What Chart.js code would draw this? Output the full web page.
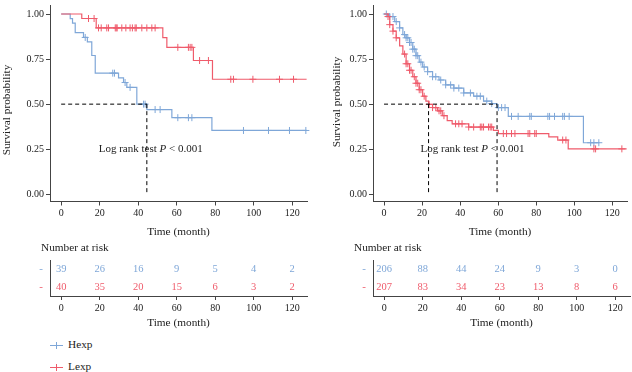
<!DOCTYPE html>
<html>
<head>
<meta charset="utf-8">
<script src="https://cdn.jsdelivr.net/npm/chart.js@4"></script>
<style>
  body{margin:0;background:#fff;}
  #wrap{position:relative;width:632px;height:372px;overflow:hidden;background:#fff;
        font-family:"Liberation Serif","DejaVu Serif",serif;color:#222;}
  #wrap canvas{position:absolute;}
  .legend{position:absolute;left:50px;font-size:11.3px;line-height:14px;white-space:nowrap;}
  .legend .sw{display:inline-block;position:relative;width:13px;height:1px;vertical-align:middle;margin-right:5px;}
  .legend .sw::after{content:"";position:absolute;left:6px;top:-3px;width:1px;height:7px;background:inherit;}
</style>
</head>
<body>
<div id="wrap">
  <canvas id="kmLeft" width="316" height="239" style="left:0;top:0"></canvas>
  <canvas id="kmRight" width="316" height="239" style="left:316px;top:0"></canvas>
  <canvas id="riskLeft" width="316" height="90" style="left:0;top:240px"></canvas>
  <canvas id="riskRight" width="316" height="90" style="left:316px;top:240px"></canvas>
</div>
<script>
// ---- donnees ----
const groups = ["Hexp", "Lexp"];
const timeTicks = [0, 20, 40, 60, 80, 100, 120];
const survTicks = [0, 0.25, 0.5, 0.75, 1];

// panneau gauche : courbes en escalier (temps, survie)
const leftHexpTime = [0, 4.7, 5.9, 7.3, 11.6, 13.6, 15.9, 17.7, 29.8, 32.4, 34.1, 39.3, 44.5, 57.5, 78.3, 127.5];
const leftHexpSurv = [1, 0.974, 0.949, 0.897, 0.87, 0.845, 0.77, 0.672, 0.646, 0.62, 0.593, 0.5, 0.47, 0.425, 0.354, 0.354];
const leftLexpTime = [0, 10.7, 18.2, 52.8, 54.9, 68.7, 78.6, 127.5];
const leftLexpSurv = [1, 0.975, 0.923, 0.869, 0.815, 0.742, 0.638, 0.638];
// censures (temps)
const leftHexpCens = [12.5, 26.8, 27.7, 33.2, 35.8, 42.8, 43.6, 48.8, 51.4, 60.6, 66.1, 67.9, 94.7, 107.7, 118.6, 127.1];
const leftLexpCens = [14.2, 17.1, 19.4, 20.8, 23.7, 24.6, 28.1, 28.6, 29.1, 31.5, 33.6, 35.8, 37, 38.4, 39,
  41.9, 44.5, 47.1, 48.8, 60.6, 66.1, 67, 67.9, 71.9, 76.5, 88.1, 89.5, 99.6, 113.4, 120.7];
const leftMedians = [44.5];

// panneau droit
const rightHexpTime = [0, 1.7, 3.0, 5.6, 8.2, 9.9, 11.6, 13.4, 15.1, 16.8, 18.5, 20.3, 22.9, 25.5, 28.9, 32.4,
  36.7, 41.9, 47.1, 52.3, 56.6, 59.4, 65.3, 104.8, 113.2];
const rightHexpSurv = [1, 0.995, 0.986, 0.958, 0.923, 0.886, 0.868, 0.842, 0.805, 0.769, 0.733, 0.706, 0.68, 0.652, 0.634, 0.607,
  0.589, 0.562, 0.544, 0.517, 0.503, 0.481, 0.432, 0.286, 0.286];
const rightLexpTime = [0, 2.1, 3.0, 4.7, 6.4, 8.2, 9.9, 11.6, 13.4, 15.1, 16.8, 18.5, 20.3, 22, 23.4, 25.5, 28.1,
  30.6, 33.2, 35.8, 44.5, 57.5, 60.1, 86.6, 91.3, 96.8, 127.5];
const rightLexpSurv = [1, 0.986, 0.941, 0.905, 0.868, 0.823, 0.778, 0.724, 0.688, 0.652, 0.616, 0.58, 0.544, 0.517, 0.499, 0.481, 0.463,
  0.436, 0.409, 0.391, 0.373, 0.355, 0.337, 0.319, 0.301, 0.252, 0.252];
const rightHexpCens = [1.2, 3.0, 4.7, 6.4, 8.2, 10.8, 11.6, 12.5, 13.4, 14.2, 15.1, 15.9, 16.8, 17.7, 19.4, 21.1, 22.9,
  25.5, 27.2, 29.8, 32.4, 35, 36.7, 39.3, 41.9, 45.4, 48.8, 50.6, 54, 56.6, 60.1, 61.8, 63.6, 67, 70.5, 76.6,
  77.4, 86.1, 87, 89.6, 93.9, 94.8, 97.3, 108.6, 110.3, 112.9];
const rightLexpCens = [2.1, 3.0, 4.7, 6.4, 10.8, 11.6, 12.5, 13.4, 14.2, 15.9, 16.8, 17.7, 18.5, 19.4, 21.1, 23.7,
  25.5, 27.2, 28.9, 29.8, 31.5, 37.6, 39.3, 41, 44.5, 47.1, 50.6, 51.4, 52.3, 54.9, 55.8, 56.6, 62.7, 64.4, 67,
  68.8, 75.7, 76.6, 79.2, 80, 93.9, 95.6, 110.3, 111.2, 125];
const rightMedians = [23.4, 59.4];

// nombre a risque
const leftRiskHexp = [39, 26, 16, 9, 5, 4, 2];
const leftRiskLexp = [40, 35, 20, 15, 6, 3, 2];
const rightRiskHexp = [206, 88, 44, 24, 9, 3, 0];
const rightRiskLexp = [207, 83, 34, 23, 13, 8, 6];

const logRankText = ["Log rank test ", "P", " < 0.001"];
const logRankAt = [46.5, 0.25];

// ---- styles ----
const FONT = "'Liberation Serif', 'DejaVu Serif', serif";
const BLUE = "#7fa7d8", RED = "#ef5b6b", AXIS = "#444", TEXT = "#222";
const X_MIN = -5.8, X_MAX = 127.7;
const colors = [BLUE, RED];

function survAt(times, survs, t){
  let s = survs[0];
  for(let i=0;i<times.length;i++){ if(times[i] <= t) s = survs[i]; }
  return s;
}
function fixedAxis(size){
  return (scale)=>{
    if(scale.isHorizontal()) scale.height = size; else scale.width = size;
    scale.paddingLeft = scale.paddingRight = scale.paddingTop = scale.paddingBottom = 0;
  };
}
function timeAxis(height){
  return {
    type: "linear", min: X_MIN, max: X_MAX,
    afterBuildTicks: s => { s.ticks = timeTicks.map(v => ({value: v})); },
    afterFit: fixedAxis(height),
    border: {display: true, color: AXIS, width: 1},
    grid: {drawOnChartArea: false, drawTicks: true, tickLength: 4, color: AXIS},
    ticks: {color: TEXT, font: {family: FONT, size: 10}, padding: 2, maxRotation: 0, autoSkip: false},
    title: {display: true, text: "Time (month)", color: TEXT, font: {family: FONT, size: 11.3}, padding: 0}
  };
}

// texte "Log rank test P < 0.001" + titre de l'axe y
const kmTextPlugin = {
  id: "kmText",
  afterDatasetsDraw(chart, args, opts){
    const {ctx, scales: {x, y}} = chart;
    const px = x.getPixelForValue(logRankAt[0]), py = y.getPixelForValue(logRankAt[1]);
    ctx.save();
    ctx.fillStyle = TEXT; ctx.textBaseline = "middle"; ctx.textAlign = "left";
    const fonts = ["11px " + FONT, "italic 11px " + FONT, "11px " + FONT];
    let w = 0;
    logRankText.forEach((t, i) => { ctx.font = fonts[i]; w += ctx.measureText(t).width; });
    let cx = px - w / 2;
    logRankText.forEach((t, i) => { ctx.font = fonts[i]; ctx.fillText(t, cx, py); cx += ctx.measureText(t).width; });
    // titre vertical
    ctx.translate(opts.titleX, opts.titleY);
    ctx.rotate(-Math.PI / 2);
    ctx.textAlign = "center"; ctx.font = "11.3px " + FONT;
    ctx.fillText("Survival probability", 0, 0);
    ctx.restore();
  }
};

function kmChart(id, curves, cens, medians, yWidth, titleX, titleY){
  const datasets = [];
  // lignes mediane en pointilles
  const dash = {showLine: true, borderColor: "#000", borderWidth: 1, borderDash: [4, 3], pointRadius: 0, order: 0};
  datasets.push({...dash, data: [{x: 0, y: 0.5}, {x: Math.max(...medians), y: 0.5}]});
  medians.forEach(m => datasets.push({...dash, data: [{x: m, y: 0.5}, {x: m, y: 0}]}));
  curves.forEach((c, g) => {
    datasets.push({
      label: groups[g], showLine: true, stepped: true, borderColor: colors[g], borderWidth: 1.2,
      pointRadius: 0, order: 2 - g,
      data: c.t.map((t, i) => ({x: t, y: c.s[i]}))
    });
    datasets.push({
      showLine: false, pointStyle: "cross", pointRadius: 3.5, borderColor: colors[g], borderWidth: 1,
      order: 2 - g, clip: false,
      data: cens[g].map(t => ({x: t, y: survAt(c.t, c.s, t)}))
    });
  });
  return new Chart(document.getElementById(id), {
    type: "scatter",
    data: {datasets},
    options: {
      responsive: false, animation: false, events: [],
      layout: {padding: {left: 0, top: 0, right: id === "kmLeft" ? 9 : 2, bottom: 0}},
      plugins: {legend: {display: false}, tooltip: {enabled: false}, kmText: {titleX, titleY}},
      scales: {
        x: timeAxis(37.5),
        y: {
          type: "linear", min: -0.04, max: 1.05,
          afterBuildTicks: s => { s.ticks = survTicks.map(v => ({value: v})); },
          afterFit: fixedAxis(yWidth),
          border: {display: true, color: AXIS, width: 1},
          grid: {drawOnChartArea: false, drawTicks: true, tickLength: 4, color: AXIS},
          ticks: {color: TEXT, font: {family: FONT, size: 10}, padding: 2, callback: v => v.toFixed(2)}
        }
      }
    },
    plugins: [kmTextPlugin]
  });
}

// nombres a risque, dessines a la position des points
const riskPlugin = {
  id: "riskNumbers",
  afterDatasetsDraw(chart, args, opts){
    const {ctx} = chart;
    ctx.save();
    ctx.font = "10.5px " + FONT; ctx.textAlign = "center"; ctx.textBaseline = "middle";
    chart.data.datasets.forEach((ds, g) => {
      ctx.fillStyle = colors[g];
      chart.getDatasetMeta(g).data.forEach((pt, i) => ctx.fillText(String(ds.data[i].n), pt.x, pt.y));
    });
    ctx.fillStyle = TEXT; ctx.textAlign = "left"; ctx.font = "11.3px " + FONT;
    ctx.fillText("Number at risk", opts.headerX, opts.headerY);
    ctx.restore();
  }
};

function riskChart(id, rows, yWidth, headerX){
  const datasets = rows.map((vals, g) => ({
    label: groups[g], pointRadius: 0,
    data: vals.map((n, i) => ({x: timeTicks[i], y: 2 - g, n}))
  }));
  return new Chart(document.getElementById(id), {
    type: "scatter",
    data: {datasets},
    options: {
      responsive: false, animation: false, events: [],
      layout: {padding: {left: 0, top: 20, right: id === "riskLeft" ? 9 : 2, bottom: 0}},
      plugins: {legend: {display: false}, tooltip: {enabled: false}, riskNumbers: {headerX, headerY: 8}},
      scales: {
        x: timeAxis(34),
        y: {
          type: "linear", min: 0.5, max: 2.5,
          afterBuildTicks: s => { s.ticks = [{value: 1}, {value: 2}]; },
          afterFit: fixedAxis(yWidth),
          border: {display: true, color: AXIS, width: 1},
          grid: {drawOnChartArea: false, drawTicks: false},
          ticks: {callback: () => "-", color: c => (c.tick.value === 2 ? BLUE : RED),
                  font: {family: FONT, size: 11}, padding: 7}
        }
      }
    },
    plugins: [riskPlugin]
  });
}

kmChart("kmLeft",
  [{t: leftHexpTime, s: leftHexpSurv}, {t: leftLexpTime, s: leftLexpSurv}],
  [leftHexpCens, leftLexpCens], leftMedians, 50, 7, 110);
kmChart("kmRight",
  [{t: rightHexpTime, s: rightHexpSurv}, {t: rightLexpTime, s: rightLexpSurv}],
  [rightHexpCens, rightLexpCens], rightMedians, 57, 21, 102);
riskChart("riskLeft", [leftRiskHexp, leftRiskLexp], 50, 41);
riskChart("riskRight", [rightRiskHexp, rightRiskLexp], 57, 38);

// legende (HTML)
const wrap = document.getElementById("wrap");
groups.forEach((g, i) => {
  const d = document.createElement("div");
  d.className = "legend";
  d.style.top = (337 + i * 22) + "px";
  d.innerHTML = `<span class="sw" style="background:${colors[i]}"></span>${g}`;
  wrap.appendChild(d);
});
</script>
</body>
</html>
